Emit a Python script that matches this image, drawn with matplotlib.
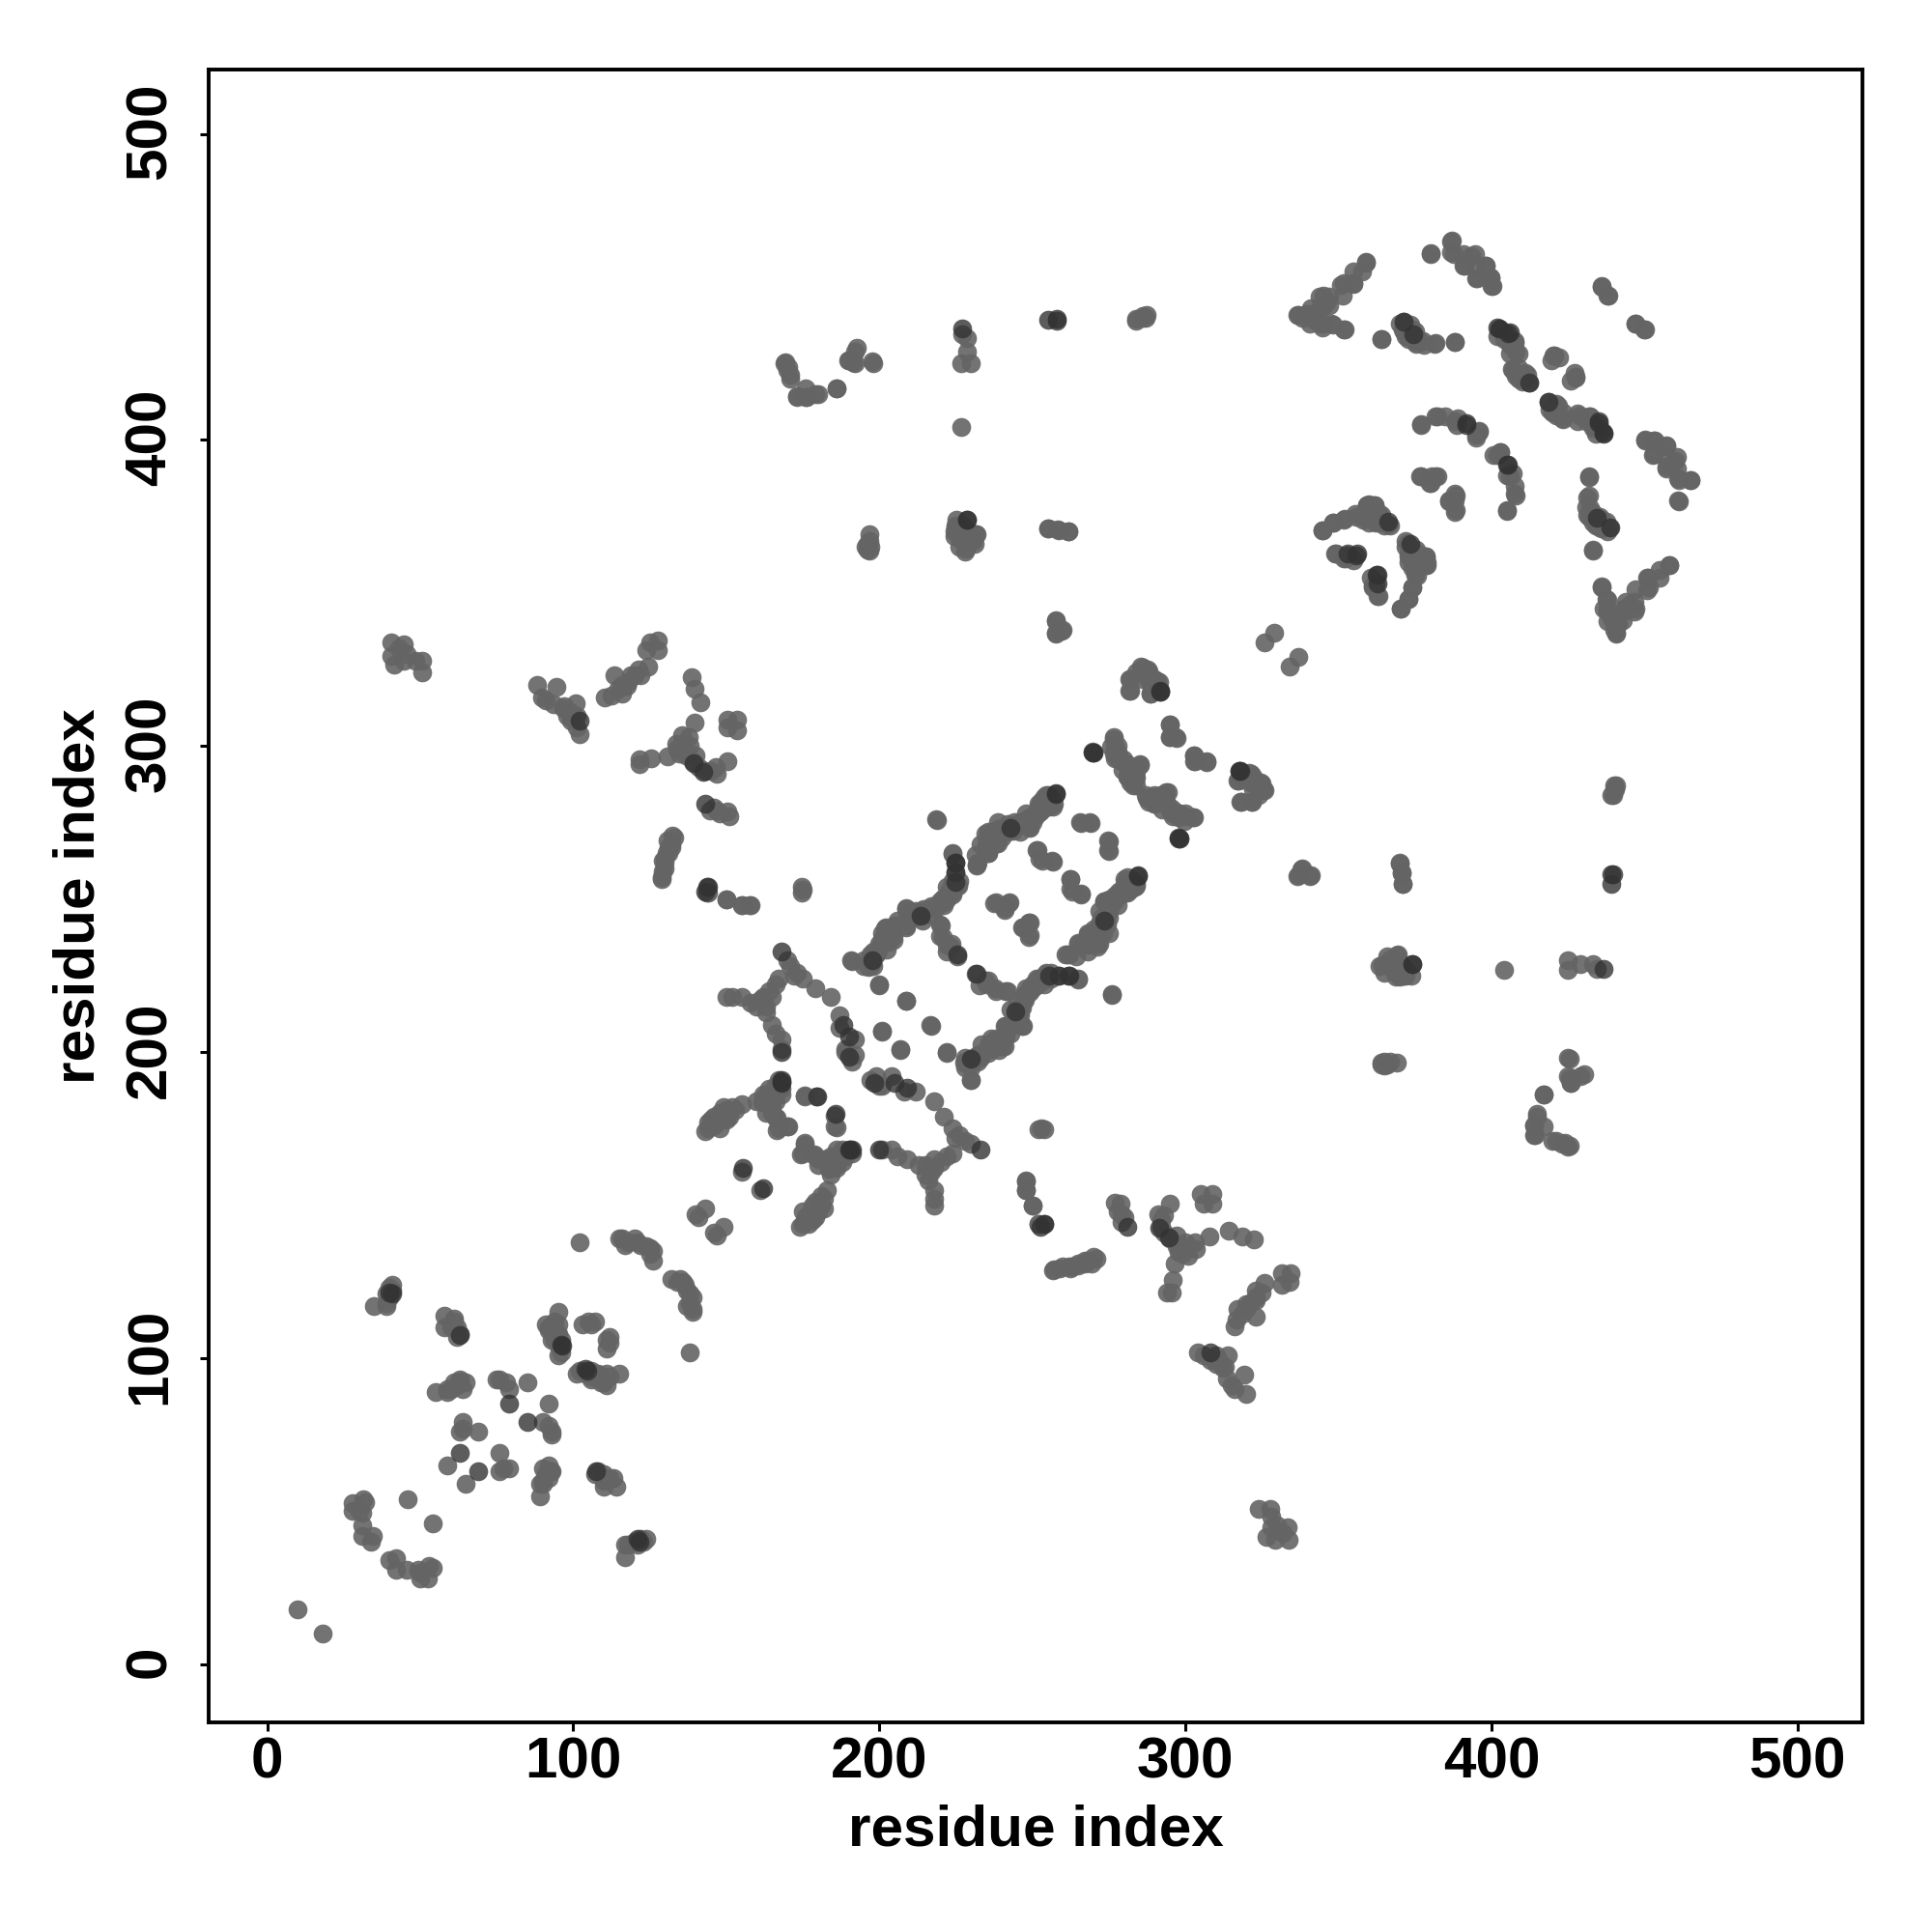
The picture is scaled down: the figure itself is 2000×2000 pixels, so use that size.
import numpy as np
import matplotlib
matplotlib.use("Agg")
import matplotlib.pyplot as plt
from matplotlib.transforms import ScaledTranslation

plt.rcParams['font.family'] = ['Liberation Sans', 'DejaVu Sans']

# residue-residue contacts (i, j), i < j; the map is symmetric
contacts_a = [(10,18),(31.5,54),(28,52.5),(28,50),(31,49.5),(31,45.5),(31,42),(34.5,42),(34,40),(46,54),(30,50),(32,53),
    (41,124),(40,123),(40,120),(39,118),(39,117),(35,117),(41,122),
    (58,114),(58,110),(61,113),(63,108),(60,110),(62,110),(61,112),(61,110.5),(62,107),
    (55,89),(59,90),(59,89),(61,92),(63,93),(64,90),(62,91),(65,92),(60,90),(63,92.5),
    (75,93),(78,92),(79,90),(76,93),(85,92),
    (64,79),(63,76),(69,76),(64,77),(59,65),
    (95,115),(91,111),(95,111),(96,102),(95,101),(93,106),(95,108),(92,110),(94,112),(95,107),
    (105,112),(107,112),(103,111),(106,111)]
contacts_b = [(102,138),(115,139),(116,139),(118,138),(120,139),(121,138),(122,137),(124,136.5),(125,136),(126,135),(125,134),(126,132),(117,137),
    (141,146),(143,149),(140,147),(155,161),
    (40.7,333.7),(44.7,333.3),(40.7,329.3),(41.5,326.5),(44.7,328),(48.3,328),(50.7,327.7),(50.7,324),(45.5,330),(43,332),
    (88.3,320),(89.8,316),(94.6,319.3),(93.5,313.5),(96.7,312.4),(100.9,314),(99.3,308.2),(102,304),(91,315),(98,310),
    (110.4,316),(113.5,323),(114.6,318.7),(117.7,319.8),(118.8,323),(121.4,325),(124.6,326),(124,331.4),(125,334),(127.7,334.5),(127.7,331.4),(112.5,316.6),(116,317),
    (138.8,322.4),(139.8,318.7),(141.6,314.3),(139.8,307.7),(137.7,303),(135.6,303.5),(133.5,300.8),(130.9,296.6),(125.6,296),(121.6,295.6),(121.6,294),
    (136.7,297),(146.7,293),(150.4,295),(134.6,297.7),(138,300),(141,293),
    (150.4,308.7),(153.5,308.7),(150.4,306),(153.5,305),
    (144.6,279),(150.4,278.7),(150.9,277),(147,279),
    (132.5,270.8),(130.9,269.3),(132,267),(130.4,265),(129.3,262.4),(129.3,259),(128.8,256.6),
    (143.7,252),(150,250),(155,248),(157.7,248),(174.8,254),(174.8,252)]
contacts_c = [(150,218),(152,218),(155,218),(158,216),(160,215),(162,218),(164,220),(166,222),(167,224),(163,213),(165,209),(166,206),(168,204),(168,201),(161,217),(163,215),(165,218),
    (170,230),(171,228),(173,226),(175,224),(179,221),(184,218),(172,225),
    (187,212),(187,208),(192,204),(189,201),(192,199),(191,197),(189,200),
    (143,174),(144,177),(145,178),(147,177),(148,180),(150,181),(152,182),(155,183),(148,175),(162,184),(165,186),(167,188),(164,185),
    (166.3,178.7),(167,175),(169.8,175.7),(175.6,185.5),(179.3,185.5),(185.9,175.5),
    (175.6,170.3),(174.5,166.6),(178.7,166.6),(183.5,161.8),(185,165),(188.2,167.1),(187,166),
    (199.8,222),(208.7,216.9),(216.8,208.9),(200.8,206.9),(206.8,201),(221.9,200),
    (158,248),(155,248),(150,250),(175,253),(144,252),
    (129,257),(130,262),(131,265),(133,270),(132,268)]
contacts_d = [(190.8,230),(196,229.2),(197,232),(199.8,235.5),(200.8,239),(204.5,238),(202,240.8),(205,241.3),(208.7,241.3),(208.7,247),(213.5,246),(216.6,247),(219.8,248.7),
    (221.9,251.3),(224,252.3),(225.9,254.4),(223.8,265),(225,258.7),(220.8,250.2),
    (219.8,241.8),(219.8,238),(223.5,235.5),(221.9,232.9),(222,235),
    (231.4,225.5),(234.5,223.4),(237.7,220.8),(241.4,220),(246.6,214.4),(249.3,219.7),(251.4,223.9),(254.5,225.5),(264.8,223.9),(247.7,217),(247.2,218.7),
    (240.8,208.7),(246.6,208.7),(243,208.7),(236.6,204.5),(233.5,202.5),(240.3,201.9),(238,203),(229.3,197.6),(227.7,196.6),(232.4,199.2),(229.8,191),
    (218.7,276),(275.9,218.9),
    (231.9,260.8),(231.4,264.4),(235.6,265),(234.5,271.3),(235,268.1),(238.7,268.1),(238.7,275),(248.2,276),(249.3,273.4),(251.4,278.7),(254,283.4),(256.6,280.2),(252,281),(246,275),
    (265.6,275),(268.7,275),(274.8,269),(274.8,266),(251.4,266),(252.4,263),(256.6,262.3),(262.4,256.5),(265.9,251.8),(262.4,253.4),
    (238.2,249),(242.4,249),(240.8,246.5),(248.7,242.3),(247,240.8),(248.7,237.6),
    (261.4,231.8),(265,235.5),(268.2,238.1),(271.9,235.5),(274.5,241.8),(273,238.7),(272.4,243.9),(273.5,249.2),(276.6,249.2),(280.3,255.5),(284,254.4),(278.2,252.3),(277,251),
    (269.8,298.1),(276.6,302.9),(275.6,299.7),(278.2,297),(280.8,293.9),(285,294.2),(283.5,289.7),(281.9,288),(279.3,292.3),
    (287.2,282.9),(289.8,283.9),(293.7,285),(295.6,279.7),(297.7,276.6),(302.4,276.6),(300,277),(297.9,269.9),(291,282),
    (285.6,326),(287.7,325),(290.8,321.3),(288.7,317),(281.9,321.8),(281.9,318.1),(288.2,321.3),
    (294.8,307),(296.9,302.9),(295,302.9),(302.7,297),(306.9,295),(303,295),
    (317.7,291.8),(317.2,288.7),(320.8,291.3),(321.9,288),(325.6,286),(324.5,288),(318.2,281.8),(321.9,281.8),
    (337.7,259.7),(336.6,257.6),(340.8,257.6),(370,261.8),(370.6,258.7),(371,255),
    (363.5,228),(366,231.3),(369.3,231.8),(371.4,225),(368.7,224.5),(370,228),(326,334),(329,337)]
contacts_e = [(169.3,425.5),(170.4,423.9),(170.9,421.3),(173,414.2),(175.8,417),(176.2,413.9),(179.9,415),(186,417),(192.8,430.2),(189.9,426),(191.4,425.5),(197.7,425.7),
    (227.2,434.4),(228.8,433.2),(228.8,429),(226.7,425),(230,425),(226.9,404.1),
    (284,439.7),(287.2,440.8),
    (196.7,369.2),(196.9,367),(195.6,365),(196.7,363.9),(196,366),
    (225.1,373.9),(224.6,370),(228.3,364.4),(231.6,369.2),(230.4,367),(226.2,368),(228,371),
    (255.1,371),(258.3,370.8),(261.7,370),(257.7,341),(259.9,338),(257.7,337),
    (286,440.5),(284,287),(440,287),
    (414,173),(414,176),(417,186),(415,179),(425,198),(425,192),(426,190),(429,192),(420,171),(425,169),(423,170),
    (286,440),(439,284)]
contacts_f = [(344.8,370.5),(348.2,373),(351.9,374.1),(355.5,375.7),(359.2,378.8),(361.9,378.6),(360.8,374.4),(364,375.5),(362,376),
    (349,363),(352.4,361.3),(355,360.7),(362.1,352.8),(362.9,349.1),(361.3,351.8),
    (372.4,366.3),(373.4,364.9),(378.7,361.8),(378.7,359.2),(374,361.8),(375,355.8),(374,351.8),(372.9,348.1),(370.3,344.9),(376,363),
    (376.6,388.1),(380.3,388.1),(382.4,388.1),(379.8,386),(386,380.2),(388.2,381.8),(388.2,377),
    (400.8,395),(402.9,396),(405,388.6),(407.1,389.1),(407.7,382.3),(405,377),
    (432,388.1),(431.3,381.3),(431.3,375.5),(435.5,375),(433.1,364.1),
    (436,352.1),(437.6,348.1),(436.6,344.9),(439.2,341.8),(440.8,337),(442.9,343.9),(447,345),(447,351.3),
    (450.8,354.9),(455,357.6),(458.1,359.1),(451.3,351.8),(443.4,344.9),
    (336.6,440.7),(339.7,441.2),(340.8,438),(343.9,438),(347.6,438),(351.8,436),(343.9,446.8),(347.1,446.8),(350.8,450.7),(355,451.2),(355,454.9),(359,458),(347,443.9),
    (363.9,433.1),(371.3,438.6),(373.4,437.6),(377.6,432.3),(381.8,431.8),(387.9,432),(371.3,435.4),(376,433),
    (380,461.1),(386.9,464.9),(386.9,461.2),(390.8,460.7),(394.5,460.7),(390.8,457),(395,452.8),(394.5,457),(398.2,457),(399.7,453.3),(399.9,450.2),
    (407.6,432.3),(406,428.1),(408.7,428.1),(406.6,423.3),(411.8,421.2),(409.2,420.7),(420.3,427.6),(422,427),(427.6,420.5),(426,419.5),
    (418.7,412.3),(421.8,411.2),(422.9,407),(423.4,409),(428.7,408),(431.8,407.6),(420,410),
    (436,450.2),(438.1,447),(447,438),(450,436),
    (450.3,400.2),(452.9,399.7),(452.9,395.4),(457,398),(457,391.2),(460,393.3),(460.8,387.6),(460.8,380.2),(465,387),
    (376.9,405.1),(381.8,407.8),(385,407.6),(388.1,406),(395,401.8),(396,402.8)]
# further contacts read inside the dense bands
contacts_dense = [(146,179),(149,182),(151,179),(153,181),(146,176),(150,178),(144,175),
    (165,187),(166,189),(163,186),(160,184),(167,191),(162,186),(164,188),
    (180,163),(182,165),(184,166),(186,168),(188,168),(180,165),(184,163),
    (195,228),(197,228),(198,233),(199,232),(201,237),(203,236),(206,243),(210,245),(218,247),(221,249),(223,253),(224,256),(226,256),(222,254),
    (232,262),(233,268),(236,270),(237,272),(240,272),(242,272),(244,274),(250,277),(252,280),(253,282),(255,284),(255,281),(253,279),(250,275),
    (245,216),(248,221),(250,222),(252,224),(246,212),(244,211),(243,214),(230,195),(228,198),(231,198),(234,200),(236,202),
    (267,235),(270,240),(272,246),(275,244),(278,248),(280,252),(282,254),(283,256),(281,257),(275,247),
    (277,296),(278,300),(279,295),(282,291),(283,293),(281,290),(290,281),(292,284),(294,281),(296,278),(298,278),
    (360,373),(362,373),(363,374),(365,372),(367,372),(373,363),(375,360),(377,360),(379,360),(374,358),
    (402,434),(404,433),(406,431),(410,419),(411,420),(420,409),(421,408),(433,405),(435,404),(436,403),
    (372,436),(374,436),(375,432),(378,431),(433,373),(434,372),(436,371),(437,372),(438,370),
    (438,345),(440,342),(441,340),(440,338),(443,341),(445,346),
    (100,309),(101,310),(101,306),(99,311),(97,313),(118,321),(116,320),(120,323),(122,323),
    (140,297),(143,292),(145,292),(147,291),(139,295),(137,298),(134,299),(130,263),(131,267),(130,260),(146,280),(148,278),
    (92,109),(95,104),(94,106),(96,106),(40,122),(39,121),(225,372),(227,372),(226,365),(228,367),(197,365),(196,364),(322,290),
    (284,324),(286,322),(289,319),(290,318)]
# strongest contacts, drawn darker
contacts_strong = [(41,121),(40,121.5),(63,107.5),(96.5,104),(96,104.5),(63,69),(79,85),(143.7,254),(143,281),(143,252.5),
    (168,191),(168,190),(155.4,162),(185.6,179.7),(190.3,168.2),(168,200),(168,233),(144,254),(197.7,230),
    (225,262),(225.6,231.8),(244.5,213.4),(255.6,225),(258.7,225),(261.9,225),(243,273.4),(257.7,284.4),(284.5,257.6),
    (269.8,298),(291.9,318.1),(297.9,270),(317.7,291.8),(402.4,436.5),(405.5,434.9),(412.4,418.6),(436.6,402),(435,406),
    (374.5,434.4),(362.4,355.8),(353,362.8),(356,362.8),(366.1,373.4),(405,391.8),(391.8,405.4),(438.7,371.3),
    (228.7,374),(374,228.7),(258,439.7),(255.1,439.2),(227.2,436.5),(258,439),(139.3,294.5),(142.5,291.4),(102,308.2),(188.2,209),(190,205),(190,198.5)]
tick_values = [0, 100, 200, 300, 400, 500]
axis_label = "residue index"

fig = plt.figure(figsize=(10, 10), dpi=200)
ax = fig.add_axes([0.108, 0.1085, 0.856, 0.8555])

normal = np.array(contacts_a + contacts_b + contacts_c + contacts_d + contacts_e + contacts_f + contacts_dense)
strong = np.array(contacts_strong)
ax.scatter(np.r_[normal[:, 0], normal[:, 1]], np.r_[normal[:, 1], normal[:, 0]], s=50, c='#646464', alpha=0.9, linewidths=0, zorder=2)
ax.scatter(np.r_[strong[:, 0], strong[:, 1]], np.r_[strong[:, 1], strong[:, 0]], s=50, c='#333333', alpha=0.8, linewidths=0, zorder=3)

ax.set_xlim(-19.1, 521.2)
ax.set_ylim(-19.0, 521.0)
ax.set_xticks(tick_values)
ax.set_yticks(tick_values)
ax.tick_params(axis='x', length=3.2, width=1.1, labelsize=21.7, pad=2, color='black')
ax.tick_params(axis='y', length=3.2, width=1.1, labelsize=21.7, pad=8.5, color='black')
for label in ax.get_xticklabels() + ax.get_yticklabels():
    label.set_fontweight('bold')
up = ScaledTranslation(0, 0.9 / 72, fig.dpi_scale_trans)
for label in ax.get_yticklabels():
    label.set_rotation(90)
    label.set_va('center')
    label.set_transform(label.get_transform() + up)
for spine in ax.spines.values():
    spine.set_linewidth(1.4)
ax.set_xlabel(axis_label, fontsize=21.7, fontweight='bold', labelpad=5.3)
ax.set_ylabel(axis_label, fontsize=21.7, fontweight='bold', labelpad=6.7)
fig.savefig('out.png', dpi=200)
